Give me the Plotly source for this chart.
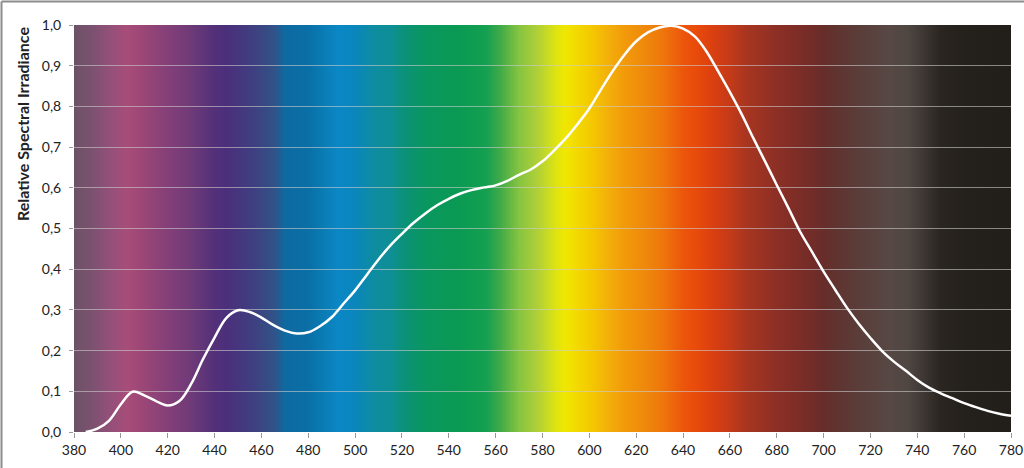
import base64
import plotly.graph_objects as go

# Curve data (wavelength nm, relative spectral irradiance)
wavelength = [385, 390, 395, 400, 405, 410, 415, 420, 425, 430, 435, 440, 445, 450, 455, 460,
              465, 470, 475, 480, 485, 490, 495, 500, 505, 510, 515, 520, 525, 530, 535, 540,
              545, 550, 555, 560, 565, 570, 575, 580, 585, 590, 595, 600, 605, 610, 615, 620,
              625, 630, 635, 640, 645, 650, 655, 660, 665, 670, 675, 680, 685, 690, 695, 700,
              705, 710, 715, 720, 725, 730, 735, 740, 745, 750, 755, 760, 765, 770, 775, 780]
irradiance = [0.0, 0.008, 0.028, 0.068, 0.099, 0.090, 0.076, 0.065, 0.076, 0.118, 0.178, 0.232,
              0.280, 0.299, 0.295, 0.281, 0.263, 0.249, 0.242, 0.245, 0.260, 0.282, 0.315, 0.348,
              0.386, 0.424, 0.458, 0.487, 0.514, 0.537, 0.557, 0.573, 0.586, 0.595, 0.601, 0.606,
              0.617, 0.632, 0.645, 0.665, 0.692, 0.722, 0.757, 0.795, 0.842, 0.887, 0.927, 0.960,
              0.982, 0.994, 0.998, 0.991, 0.972, 0.935, 0.886, 0.835, 0.781, 0.722, 0.665, 0.607,
              0.550, 0.492, 0.443, 0.394, 0.349, 0.305, 0.266, 0.231, 0.199, 0.173, 0.151, 0.128,
              0.109, 0.095, 0.083, 0.071, 0.061, 0.052, 0.045, 0.040]

x_ticks = [380, 400, 420, 440, 460, 480, 500, 520, 540, 560, 580, 600, 620, 640, 660, 680,
           700, 720, 740, 760, 780]
y_ticks = [0.0, 0.1, 0.2, 0.3, 0.4, 0.5, 0.6, 0.7, 0.8, 0.9, 1.0]
y_title = "Relative Spectral Irradiance"

# Spectrum background colour stops
spec_wl = [380, 388, 396, 403, 410, 420, 430, 440, 445, 452, 460, 466, 470, 480, 488, 493,
           500, 508, 515, 522, 530, 545, 556, 562, 570, 578, 586, 590, 595, 601, 608, 615,
           624, 632, 640, 646, 652, 660, 667, 681, 692, 700, 706, 716, 728, 736, 744, 750,
           760, 780]
spec_col = ["#6c5266", "#7c5170", "#95507a", "#a84c78", "#9a4677", "#843f78", "#6e3a78",
            "#533079", "#4b2f7b", "#44387e", "#3a4682", "#2f5489", "#0e6aa0", "#0a6fa6",
            "#0a7fb8", "#0a88c6", "#0a86bc", "#0e8ca0", "#0e8f96", "#0a9274", "#0a9660",
            "#0a9a52", "#14a050", "#40aa48", "#86c440", "#b0d038", "#e0e410", "#f1e700",
            "#f2d800", "#f4c800", "#f3b00a", "#f29a0a", "#ef880c", "#ee740c", "#ec560c",
            "#e84a0a", "#dc4010", "#c43a18", "#a83520", "#8a2f26", "#782c27", "#682d2a",
            "#5f3430", "#5a3e3a", "#574844", "#4f4642", "#3a3430", "#2a2521", "#24201c",
            "#221f1b"]

X_MIN, X_MAX = 380, 780

# Smooth gradient as an SVG image
stops = "".join(
    f'<stop offset="{(w - X_MIN) / (X_MAX - X_MIN):.4f}" stop-color="{c}"/>'
    for w, c in zip(spec_wl, spec_col)
)
svg = ('<svg xmlns="http://www.w3.org/2000/svg" width="1000" height="100" '
       'preserveAspectRatio="none" viewBox="0 0 1000 100">'
       f'<defs><linearGradient id="g" x1="0" y1="0" x2="1" y2="0">{stops}</linearGradient></defs>'
       '<rect x="0" y="0" width="1000" height="100" fill="url(#g)"/></svg>')
svg_uri = "data:image/svg+xml;base64," + base64.b64encode(svg.encode()).decode()

# frame lines (top and left) of the picture
L, R, T, B = 74, 13, 25, 36
W, H = 1024, 468
pw, ph = W - L - R, H - T - B
fx0 = (1.5 - L) / pw
fy1 = (H - B - 1.5) / ph
fx1 = (W - L) / pw
fy0 = -B / ph
shapes = [
    dict(type="line", xref="paper", yref="paper", x0=fx0, x1=fx1, y0=fy1, y1=fy1,
         line=dict(color="#8c8c8c", width=2), layer="above"),
    dict(type="line", xref="paper", yref="paper", x0=fx0, x1=fx0, y0=fy0, y1=fy1,
         line=dict(color="#8c8c8c", width=2), layer="above"),
]

fig = go.Figure()
fig.add_trace(go.Scatter(x=wavelength, y=irradiance, mode="lines",
                         line=dict(color="white", width=2.5, shape="spline", smoothing=1.0),
                         hoverinfo="x+y", showlegend=False))

font_family = "Lato, Open Sans, sans-serif"
fig.update_layout(
    width=W, height=H,
    margin=dict(l=L, r=R, t=T, b=B, autoexpand=False),
    paper_bgcolor="white", plot_bgcolor="white",
    separators=",.",
    shapes=shapes,
    images=[dict(source=svg_uri, xref="x", yref="y", x=X_MIN, y=1, sizex=X_MAX - X_MIN,
                 sizey=1, sizing="stretch", layer="below", xanchor="left", yanchor="top")],
    annotations=[dict(text=f"<b>{y_title}</b>", xref="paper", yref="paper",
                      x=(22 - L) / pw, y=1.0, xanchor="center", yanchor="top",
                      textangle=-90, showarrow=False,
                      font=dict(size=16, color="#222222", family=font_family))],
    font=dict(family=font_family, color="#222222"),
    xaxis=dict(range=[X_MIN, X_MAX], tickvals=x_ticks, ticks="outside", ticklen=5,
               tickcolor="#999999", showgrid=False, zeroline=False, showline=False,
               automargin=False, ticklabeloverflow="allow",
               tickfont=dict(size=14, color="#222222")),
    yaxis=dict(range=[0, 1], tickvals=y_ticks, tickformat=".1f", ticks="outside", ticklen=4,
               tickcolor="#999999", showgrid=True, gridcolor="rgba(205,205,205,0.6)",
               gridwidth=1, zeroline=False, showline=False, automargin=False,
               ticklabelstandoff=5, ticklabeloverflow="allow",
               tickfont=dict(size=14, color="#222222")),
)

fig.write_html("out.html", config={"displayModeBar": False},
               post_script="document.body.style.margin='0px';document.body.style.overflow='hidden';")
